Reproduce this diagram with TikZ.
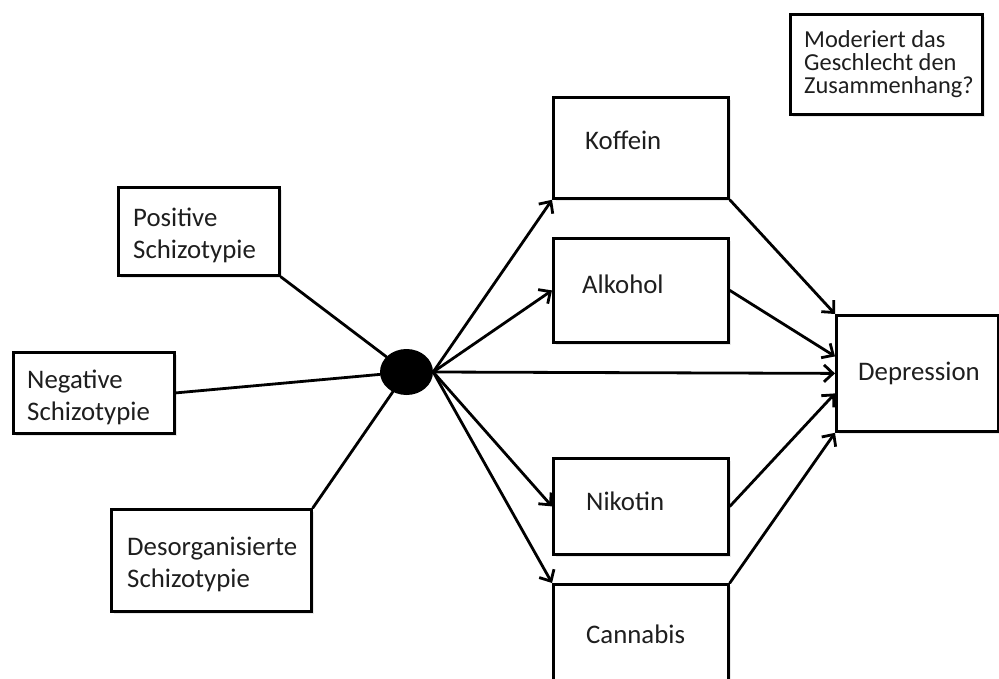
\documentclass[tikz,border=0pt]{standalone}
\usepackage{fontspec}
\setmainfont{Carlito}
\usetikzlibrary{arrows.meta,shadows,shapes.geometric}
\definecolor{txt}{HTML}{1E1E1E}
\tikzset{
  box/.style={draw=black, line width=2.8pt, fill=white, inner sep=0pt,
    anchor=north west,
    drop shadow={opacity=0.18, shadow xshift=2.5pt, shadow yshift=-2.5pt}},
  lbl/.style={anchor=base west, inner sep=0pt, text=txt,
    font=\fontsize{26.8}{32}\selectfont},
  smalllbl/.style={lbl, font=\fontsize{24.4}{23}\selectfont},
  link/.style={line width=2.8pt, line cap=round},
  arr/.style={link, -{Straight Barb[length=9pt,width=17pt,line width=2.8pt]}},
}
\begin{document}
\begin{tikzpicture}[x=1pt,y=-1pt]
\useasboundingbox (0,0) rectangle (999,679);
\clip (0,0) rectangle (999,679);

% boxes
\node[box, minimum width=161pt, minimum height=88pt]  (pos) at (117,186) {};
\node[box, minimum width=161pt, minimum height=81pt]  (neg) at (12,351) {};
\node[box, minimum width=200pt, minimum height=102pt] (des) at (110,508) {};
\node[box, minimum width=175pt, minimum height=101pt] (kof) at (552,96) {};
\node[box, minimum width=175pt, minimum height=104pt] (alk) at (552,237) {};
\node[box, minimum width=175pt, minimum height=96pt]  (nik) at (552,457) {};
\node[box, minimum width=175pt, minimum height=120pt] (can) at (552,583) {};
\node[box, minimum width=162pt, minimum height=116pt] (dep) at (835,314) {};
\node[box, minimum width=192pt, minimum height=100pt] (mod) at (789,13) {};

% labels
\node[lbl] (tpos) at (133,227) {\vtop{\hbox{Positive}\hbox{Schizotypie}}};
\node[lbl] (tneg) at (27,388) {\vtop{\hbox{Negative}\hbox{Schizotypie}}};
\node[lbl] (tdes) at (127,555) {\vtop{\hbox{Desorganisierte}\hbox{Schizotypie}}};
\node[lbl] (tkof) at (585,150) {Koffein};
\node[lbl] (talk) at (582,294) {Alkohol};
\node[lbl] (tnik) at (586,510) {Nikotin};
\node[lbl] (tcan) at (586,643) {Cannabis};
\node[lbl] (tdep) at (858,380) {Depression};
\node[smalllbl] (tmod) at (804,48)
  {\vtop{\hbox{Moderiert das}\hbox{Geschlecht den}\hbox{Zusammenhang?}}};

% central hub
\node[ellipse, fill=black, minimum width=53pt, minimum height=46pt, inner sep=0pt]
  (hub) at (406.5,372) {};

% predictors into the hub
\draw[link] (pos.south east) -- (hub);
\draw[link] (neg.east) -- (hub);
\draw[link] (des.north east) -- (hub);

% hub to substances and outcome
\draw[arr] (hub.east) -- (kof.south west);
\draw[arr] (hub.east) -- (alk.west);
\draw[arr] (hub.east) -- (dep.west);
\draw[arr] (hub.east) -- (nik.west);
\draw[arr] (hub.east) -- (can.north west);

% substances to outcome
\draw[arr] (kof.south east) -- (dep.north west);
\draw[arr] (alk.east) -- ([yshift=17pt]dep.west);
\draw[arr] (nik.east) -- ([yshift=-20pt]dep.west);
\draw[arr] (can.north east) -- (dep.south west);
\end{tikzpicture}
\end{document}
